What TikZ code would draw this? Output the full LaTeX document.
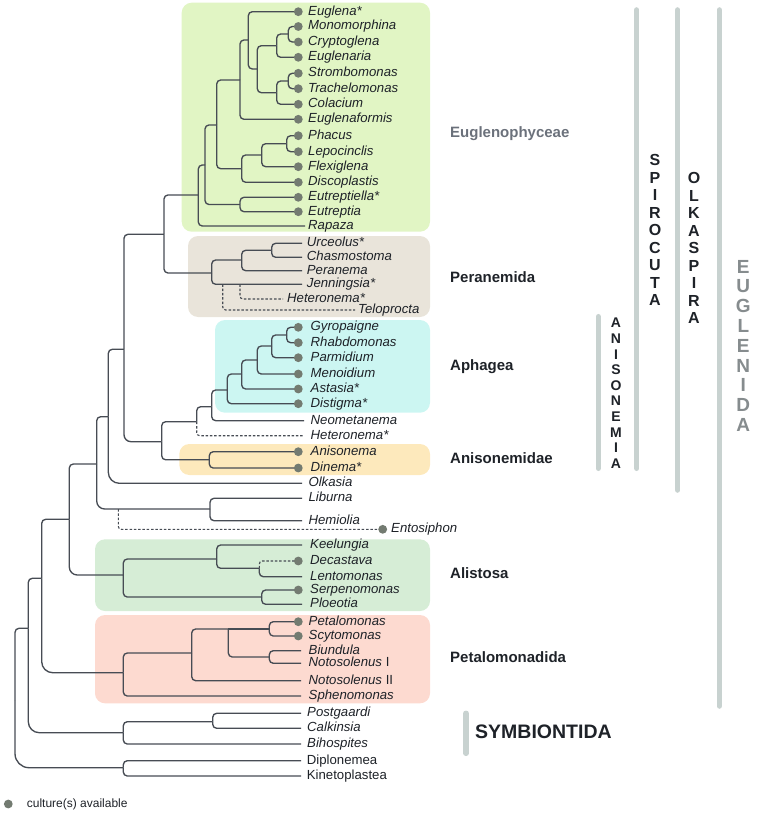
\documentclass[tikz,border=0pt]{standalone}
\usepackage{fontspec}
\setmainfont{Liberation Sans}
\definecolor{treec}{HTML}{474C54}
\definecolor{dotc}{HTML}{737B71}
\definecolor{txt}{HTML}{1E2228}
\definecolor{barc}{HTML}{C8D2D0}
\definecolor{bEug}{HTML}{E1F5C4}
\definecolor{bPer}{HTML}{E9E4DA}
\definecolor{bAph}{HTML}{CCF6F2}
\definecolor{bAni}{HTML}{FDE9BC}
\definecolor{bAli}{HTML}{D6EDD6}
\definecolor{bPet}{HTML}{FDDAD0}
\definecolor{eugl}{HTML}{6B717B}
\definecolor{euglenida}{HTML}{868C8E}
\begin{document}
\begin{tikzpicture}[x=1pt,y=-1pt,
  br/.style={draw=treec,line width=1.35pt,rounded corners=4pt},
  bigr/.style={rounded corners=11pt},
  dbr/.style={draw=treec,line width=1.1pt,rounded corners=3pt,dash pattern=on 2.5pt off 1.8pt},
  lab/.style={anchor=west,inner sep=0pt,text height=9.4pt,text depth=2.6pt,font=\fontsize{13.2}{13.2}\selectfont\itshape,text=txt},
  ulab/.style={anchor=west,inner sep=0pt,text height=9.4pt,text depth=2.6pt,font=\fontsize{13.2}{13.2}\selectfont,text=txt},
  clab/.style={anchor=west,inner sep=0pt,font=\fontsize{15}{15}\selectfont\bfseries,text=txt},
  bar/.style={draw=barc,line width=5.5pt,line cap=round},
  vstack/.style={align=center,inner sep=0pt,text=txt}]
\useasboundingbox (0,0) rectangle (756,813);

% clade boxes
\fill[bEug,rounded corners=10pt] (181.7,2.7) rectangle (430,231.7);
\fill[bPer,rounded corners=10pt] (188,236) rectangle (430,317);
\fill[bAph,rounded corners=10pt] (215,320) rectangle (430,412.7);
\fill[bAni,rounded corners=10pt] (179.3,444) rectangle (430,475);
\fill[bAli,rounded corners=10pt] (95,539.3) rectangle (430,611);
\fill[bPet,rounded corners=10pt] (95,615) rectangle (430,703.3);

% leaf end points
\coordinate (eu1) at (298.3,11.7);
\coordinate (eu2) at (298.3,26.5);
\coordinate (eu3) at (298.3,42);
\coordinate (eu4) at (298.3,57.3);
\coordinate (eu5) at (298.3,73.3);
\coordinate (eu6) at (298.3,88.7);
\coordinate (eu7) at (298.3,104.3);
\coordinate (eu8) at (298.3,119.3);
\coordinate (eu9) at (298.3,135.7);
\coordinate (eu10) at (298.3,151.7);
\coordinate (eu11) at (298.3,166.7);
\coordinate (eu12) at (298.3,182.3);
\coordinate (eu13) at (298.3,197.3);
\coordinate (eu14) at (298.3,211.7);
\coordinate (eu15) at (305,226);
\coordinate (pe1) at (302,243.3);
\coordinate (pe2) at (302,257.3);
\coordinate (pe3) at (302,270.7);
\coordinate (pe4) at (302,284.3);
\coordinate (pe5) at (283,299);
\coordinate (pe6) at (355,310);
\coordinate (ap1) at (298.3,327.3);
\coordinate (ap2) at (298.3,342.7);
\coordinate (ap3) at (298.3,357.7);
\coordinate (ap4) at (298.3,374);
\coordinate (ap5) at (298.3,389);
\coordinate (ap6) at (298.3,403.7);
\coordinate (ap7) at (304,420.7);
\coordinate (ap8) at (304,435.7);
\coordinate (an1) at (298.3,451.7);
\coordinate (an2) at (298.3,468);
\coordinate (ol) at (302,483.3);
\coordinate (li) at (302,498.3);
\coordinate (he) at (302,520.7);
\coordinate (en) at (382.7,529.3);
\coordinate (al1) at (302,545);
\coordinate (al2) at (298.3,561);
\coordinate (al3) at (302,576.7);
\coordinate (al4) at (298.3,590);
\coordinate (al5) at (302,604.3);
\coordinate (pt1) at (298.3,621.7);
\coordinate (pt2) at (298.3,636);
\coordinate (pt3) at (301,650.7);
\coordinate (pt4) at (301,663.3);
\coordinate (pt5) at (301,680.7);
\coordinate (pt6) at (301,696);
\coordinate (sy1) at (301,713.3);
\coordinate (sy2) at (301,728.3);
\coordinate (sy3) at (301,744);
\coordinate (di) at (301,760.7);
\coordinate (ki) at (301,776);

% internal nodes
\coordinate (nmc) at (288.3,34);
\coordinate (nmce) at (276.7,45.7);
\coordinate (nst) at (288.3,81);
\coordinate (nstc) at (276.7,92.7);
\coordinate (neuc) at (257.3,69);
\coordinate (neg) at (248.3,40);
\coordinate (negf) at (240,80);
\coordinate (npl) at (286.7,143.7);
\coordinate (nplf) at (261.7,155);
\coordinate (nphac) at (241.7,168.7);
\coordinate (neugl) at (216.7,125);
\coordinate (neutr) at (240,204.5);
\coordinate (neupl) at (205,165);
\coordinate (neph) at (198.3,195);
\coordinate (nuc) at (271.7,250.3);
\coordinate (nucp) at (241.7,260);
\coordinate (nucpj) at (211.7,273);
\coordinate (njh) at (240,284.3);
\coordinate (njt) at (222.7,284.3);
\coordinate (nep) at (164,234.3);
\coordinate (ngr) at (286.7,335);
\coordinate (ngrp) at (271.7,346);
\coordinate (ngrpm) at (257.3,360);
\coordinate (na5) at (241.7,374);
\coordinate (na6) at (227.3,390);
\coordinate (na7) at (211.7,406.7);
\coordinate (na8) at (196.7,421.7);
\coordinate (nan) at (209.3,459.8);
\coordinate (nani) at (161.7,441.7);
\coordinate (nspi) at (124,349.3);
\coordinate (nolk) at (108.3,416.7);
\coordinate (nlh) at (210,509);
\coordinate (nent) at (118.3,509);
\coordinate (nol2) at (96.7,464);
\coordinate (ndl) at (259.3,568.3);
\coordinate (nkdl) at (216.7,559);
\coordinate (nsp) at (261.7,597);
\coordinate (nali) at (123.3,575);
\coordinate (no3) at (69.3,519.3);
\coordinate (nps) at (269.3,629);
\coordinate (nbn) at (269.3,657);
\coordinate (npsbn) at (228.3,629);
\coordinate (n191) at (191.7,653);
\coordinate (npet) at (123.3,672.7);
\coordinate (neug) at (41.7,578.3);
\coordinate (npc) at (212.7,721.7);
\coordinate (nsym) at (123.3,732.7);
\coordinate (nes) at (28.3,628.3);
\coordinate (ndk) at (123.3,767.7);
\coordinate (nroot) at (15,700);

% branches: Euglenophyceae
\draw[br] (nmc) |- (eu2);  \draw[br] (nmc) |- (eu3);
\draw[br] (nmce) |- (nmc); \draw[br] (nmce) |- (eu4);
\draw[br] (nst) |- (eu5);  \draw[br] (nst) |- (eu6);
\draw[br] (nstc) |- (nst); \draw[br] (nstc) |- (eu7);
\draw[br] (neuc) |- (nmce); \draw[br] (neuc) |- (nstc);
\draw[br] (neg) |- (eu1);  \draw[br] (neg) |- (neuc);
\draw[br] (negf) |- (neg); \draw[br] (negf) |- (eu8);
\draw[br] (npl) |- (eu9);  \draw[br] (npl) |- (eu10);
\draw[br] (nplf) |- (npl); \draw[br] (nplf) |- (eu11);
\draw[br] (nphac) |- (nplf); \draw[br] (nphac) |- (eu12);
\draw[br] (neugl) |- (negf); \draw[br] (neugl) |- (nphac);
\draw[br] (neutr) |- (eu13); \draw[br] (neutr) |- (eu14);
\draw[br] (neupl) |- (neugl); \draw[br] (neupl) |- (neutr);
\draw[br] (neph) |- (neupl); \draw[br] (neph) |- (eu15);
% Peranemida
\draw[br] (nuc) |- (pe1); \draw[br] (nuc) |- (pe2);
\draw[br] (nucp) |- (nuc); \draw[br] (nucp) |- (pe3);
\draw[br] (nucpj) |- (nucp); \draw[br] (nucpj) |- (pe4);
\draw[dbr] (njh) |- (pe5);
\draw[dbr] (njt) |- (pe6);
\draw[br] (nep) |- (neph); \draw[br] (nep) |- (nucpj);
% Aphagea and Anisonemidae
\draw[br] (ngr) |- (ap1); \draw[br] (ngr) |- (ap2);
\draw[br] (ngrp) |- (ngr); \draw[br] (ngrp) |- (ap3);
\draw[br] (ngrpm) |- (ngrp); \draw[br] (ngrpm) |- (ap4);
\draw[br] (na5) |- (ngrpm); \draw[br] (na5) |- (ap5);
\draw[br] (na6) |- (na5); \draw[br] (na6) |- (ap6);
\draw[br] (na7) |- (na6); \draw[br] (na7) |- (ap7);
\draw[br] (na8) |- (na7); \draw[dbr] (na8) |- (ap8);
\draw[br] (nan) |- (an1); \draw[br] (nan) |- (an2);
\draw[br] (nani) |- (na8); \draw[br] (nani) |- (nan);
\draw[br] (nspi) |- (nep); \draw[br,rounded corners=7pt] (nspi) |- (nani);
\draw[br] (nolk) |- (nspi); \draw[br,bigr] (nolk) |- (ol);
% Liburna, Hemiolia, Entosiphon
\draw[br] (nlh) |- (li); \draw[br] (nlh) |- (he);
\draw[br] (nol2) |- (nolk); \draw[br,rounded corners=8pt] (nol2) |- (nlh);
\draw[dbr] (nent) |- (en);
% Alistosa
\draw[dbr] (ndl) |- (al2); \draw[br] (ndl) |- (al3);
\draw[br] (nkdl) |- (al1); \draw[br] (nkdl) |- (ndl);
\draw[br] (nsp) |- (al4); \draw[br] (nsp) |- (al5);
\draw[br] (nali) |- (nkdl); \draw[br] (nali) |- (nsp);
\draw[br] (no3) |- (nol2); \draw[br,rounded corners=8pt] (no3) |- (nali);
% Petalomonadida
\draw[br] (nps) |- (pt1); \draw[br] (nps) |- (pt2);
\draw[br] (nbn) |- (pt3); \draw[br] (nbn) |- (pt4);
\draw[br] (npsbn) -- (nps); \draw[br] (npsbn) |- (nbn);
\draw[br] (n191) |- (npsbn); \draw[br] (n191) |- (pt5);
\draw[br] (npet) |- (n191); \draw[br] (npet) |- (pt6);
\draw[br] (neug) |- (no3); \draw[br,bigr] (neug) |- (npet);
% Symbiontida and outgroups
\draw[br] (npc) |- (sy1); \draw[br] (npc) |- (sy2);
\draw[br] (nsym) |- (npc); \draw[br] (nsym) |- (sy3);
\draw[br] (nes) |- (neug); \draw[br,bigr] (nes) |- (nsym);
\draw[br] (ndk) |- (di); \draw[br] (ndk) |- (ki);
\draw[br] (nroot) |- (nes); \draw[br,rounded corners=14pt] (nroot) |- (ndk);

% culture dots
\foreach \n in {eu1,eu2,eu3,eu4,eu5,eu6,eu7,eu8,eu9,eu10,eu11,eu12,eu13,eu14,
  ap1,ap2,ap3,ap4,ap5,ap6,an1,an2,en,al2,al4,pt1,pt2}
  \fill[dotc] (\n) circle (4.4);

% leaf labels
\node[lab] (eu1t) at (308,11.7) {Euglena*};
\node[lab] (eu2t) at (308,26.5) {Monomorphina};
\node[lab] (eu3t) at (308,42) {Cryptoglena};
\node[lab] (eu4t) at (308,57.3) {Euglenaria};
\node[lab] (eu5t) at (308,73.3) {Strombomonas};
\node[lab] (eu6t) at (308,88.7) {Trachelomonas};
\node[lab] (eu7t) at (308,104.3) {Colacium};
\node[lab] (eu8t) at (308,119.3) {Euglenaformis};
\node[lab] (eu9t) at (308,135.7) {Phacus};
\node[lab] (eu10t) at (308,151.7) {Lepocinclis};
\node[lab] (eu11t) at (308,166.7) {Flexiglena};
\node[lab] (eu12t) at (308,182.3) {Discoplastis};
\node[lab] (eu13t) at (308,197.3) {Eutreptiella*};
\node[lab] (eu14t) at (308,211.7) {Eutreptia};
\node[lab] (eu15t) at (308,226) {Rapaza};
\node[lab] (pe1t) at (306.7,243.3) {Urceolus*};
\node[lab] (pe2t) at (306.7,257.3) {Chasmostoma};
\node[lab] (pe3t) at (306.7,270.7) {Peranema};
\node[lab] (pe4t) at (306.7,284.3) {Jenningsia*};
\node[lab] (pe5t) at (287,299) {Heteronema*};
\node[lab] (pe6t) at (358,310) {Teloprocta};
\node[lab] (ap1t) at (310.5,327.3) {Gyropaigne};
\node[lab] (ap2t) at (310.5,342.7) {Rhabdomonas};
\node[lab] (ap3t) at (310.5,357.7) {Parmidium};
\node[lab] (ap4t) at (310.5,374) {Menoidium};
\node[lab] (ap5t) at (310.5,389) {Astasia*};
\node[lab] (ap6t) at (310.5,403.7) {Distigma*};
\node[lab] (ap7t) at (310.5,420.7) {Neometanema};
\node[lab] (ap8t) at (310.5,435.7) {Heteronema*};
\node[lab] (an1t) at (310.5,451.7) {Anisonema};
\node[lab] (an2t) at (310.5,468) {Dinema*};
\node[lab] (olt) at (308.3,483.3) {Olkasia};
\node[lab] (lit) at (308.3,498.3) {Liburna};
\node[lab] (het) at (308.3,520.7) {Hemiolia};
\node[lab] (ent) at (391,529.3) {Entosiphon};
\node[lab] (al1t) at (310,545) {Keelungia};
\node[lab] (al2t) at (310,561) {Decastava};
\node[lab] (al3t) at (310,576.7) {Lentomonas};
\node[lab] (al4t) at (310,590) {Serpenomonas};
\node[lab] (al5t) at (310,604.3) {Ploeotia};
\node[lab] (pt1t) at (308.5,621.7) {Petalomonas};
\node[lab] (pt2t) at (308.5,636) {Scytomonas};
\node[lab] (pt3t) at (308.5,650.7) {Biundula};
\node[lab] (pt4t) at (308.5,663.3) {Notosolenus\/ \upshape I};
\node[lab] (pt5t) at (308.5,680.7) {Notosolenus\/ \upshape II};
\node[lab] (pt6t) at (308.5,696) {Sphenomonas};
\node[lab] (sy1t) at (307,713.3) {Postgaardi};
\node[lab] (sy2t) at (307,728.3) {Calkinsia};
\node[lab] (sy3t) at (307,744) {Bihospites};
\node[ulab] (dit) at (306.7,760.7) {Diplonemea};
\node[ulab] (kit) at (306.7,776) {Kinetoplastea};

% clade labels
\node[clab,text=eugl] (cEug) at (450,133.3) {Euglenophyceae};
\node[clab] (cPer) at (450,276.7) {Peranemida};
\node[clab] (cAph) at (450,366.7) {Aphagea};
\node[clab] (cAni) at (450,458.3) {Anisonemidae};
\node[clab] (cAli) at (450,573) {Alistosa};
\node[clab] (cPet) at (450,657) {Petalomonadida};
\node[clab,font=\fontsize{19.5}{19.5}\selectfont\bfseries] (cSym) at (475,731.5) {SYMBIONTIDA};

% bars
\draw[bar] (598.3,316.7) -- (598.3,468.3);
\draw[bar] (636.7,10) -- (636.7,468.3);
\draw[bar] (677.7,10) -- (677.7,490);
\draw[bar] (719.3,10) -- (719.3,706);
\draw[bar] (466,713.3) -- (466,753.3);

% vertical stacked labels
\node[vstack,font=\fontsize{14}{15.6}\selectfont\bfseries] (vAni) at (616,393.2) {A\\N\\I\\S\\O\\N\\E\\M\\I\\A};
\node[vstack,font=\fontsize{16}{17.5}\selectfont\bfseries] (vSpi) at (655,230) {S\\P\\I\\R\\O\\C\\U\\T\\A};
\node[vstack,font=\fontsize{16}{17.5}\selectfont\bfseries] (vOlk) at (694,248.3) {O\\L\\K\\A\\S\\P\\I\\R\\A};
\node[vstack,text=euglenida,font=\fontsize{19}{19.8}\selectfont\bfseries] (vEug) at (743.3,345.8) {E\\U\\G\\L\\E\\N\\I\\D\\A};

% legend
\coordinate (legdot) at (8.3,804);
\fill[dotc] (legdot) circle (4.4);
\node[ulab,font=\fontsize{12}{12}\selectfont] (legt) at (26.7,804) {culture(s) available};
\end{tikzpicture}
\end{document}
